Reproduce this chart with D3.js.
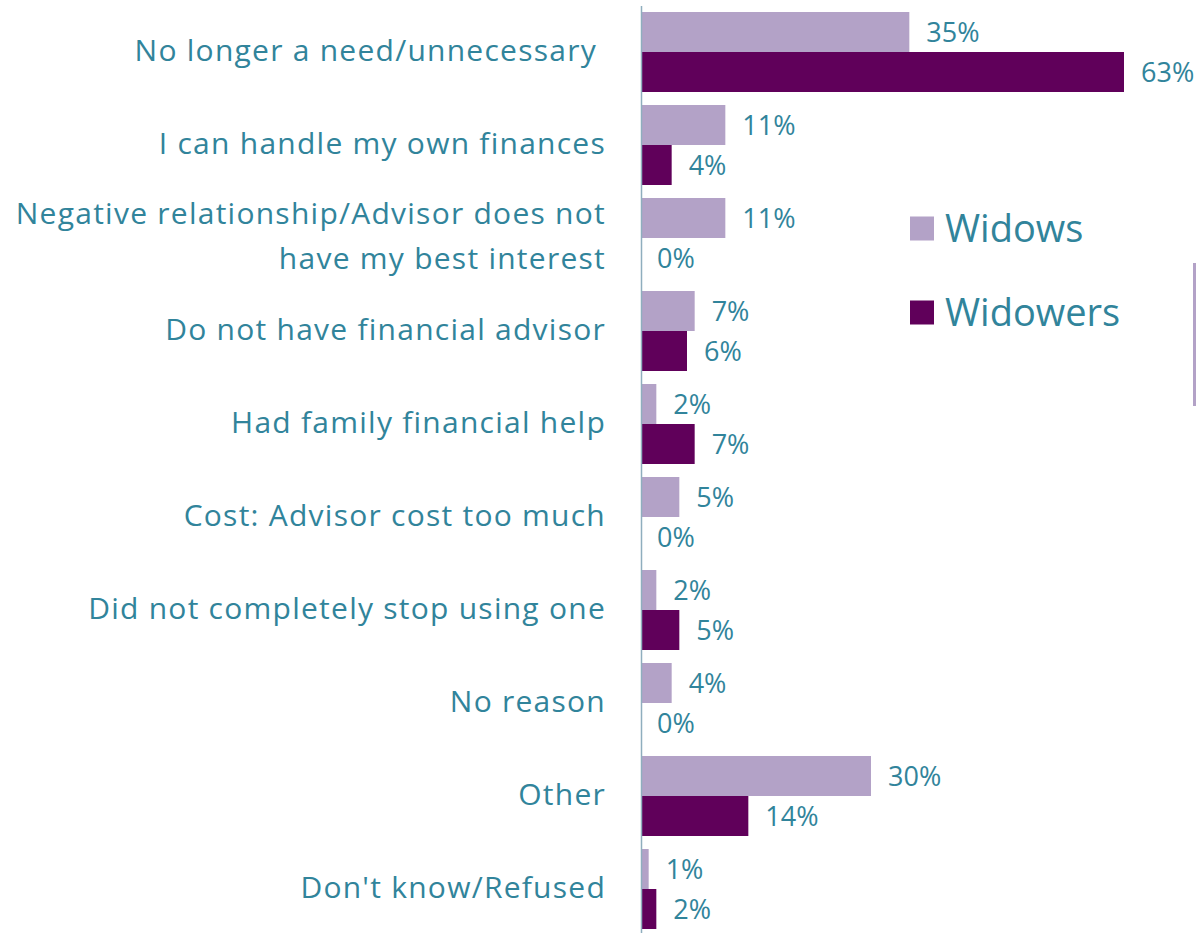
<!DOCTYPE html>
<html>
<head>
<meta charset="utf-8">
<script src="https://cdn.jsdelivr.net/npm/d3@7"></script>
<style>
  html, body { margin: 0; padding: 0; background: #fff; }
  svg { display: block; }
  text { font-family: "Open Sans", "Noto Sans", sans-serif; fill: #31849B; }
</style>
</head>
<body>
<svg id="chart" width="1197" height="933"></svg>
<script>
// Reasons for no longer using a financial advisor, by respondent group (%)
const categories = [
  ["No longer a need/unnecessary "],
  ["I can handle my own finances"],
  ["Negative relationship/Advisor does not", "have my best interest"],
  ["Do not have financial advisor"],
  ["Had family financial help"],
  ["Cost: Advisor cost too much"],
  ["Did not completely stop using one"],
  ["No reason"],
  ["Other"],
  ["Don't know/Refused"]
];
const seriesNames = ["Widows", "Widowers"];
const widows   = [35, 11, 11, 7, 2, 5, 2, 4, 30, 1];
const widowers = [63, 4, 0, 6, 7, 0, 5, 0, 14, 2];
const colors = ["#B3A2C7", "#60005A"];

const svg = d3.select("#chart");
const axisX = 641;

const y = d3.scaleBand()
  .domain(d3.range(categories.length))
  .range([5.5, 935.5])
  .paddingInner(13 / 93)
  .paddingOuter(6.5 / 93);

const ySub = d3.scaleBand()
  .domain(seriesNames)
  .range([0, y.bandwidth()]);

const x = d3.scaleLinear()
  .domain([0, 63])
  .range([axisX, 1124]);

const rows = categories.map((c, i) => ({
  i, label: c, values: [widows[i], widowers[i]]
}));

// Bars
const g = svg.append("g");
const row = g.selectAll("g.row").data(rows).join("g")
  .attr("class", "row")
  .attr("transform", d => `translate(0,${y(d.i)})`);

row.selectAll("rect").data(d => d.values.map((v, k) => ({ v, k })))
  .join("rect")
  .attr("x", x(0))
  .attr("y", d => ySub(seriesNames[d.k]))
  .attr("width", d => x(d.v) - x(0))
  .attr("height", ySub.bandwidth())
  .attr("fill", d => colors[d.k]);

row.selectAll("text.val").data(d => d.values.map((v, k) => ({ v, k })))
  .join("text")
  .attr("class", "val")
  .attr("x", d => x(d.v) + (d.v === 0 ? 16 : 17))
  .attr("y", d => ySub(seriesNames[d.k]) + ySub.bandwidth() / 2)
  .attr("dy", "0.36em")
  .attr("font-size", 27)
  .text(d => d.v + "%");

// Category axis
const axis = d3.axisLeft(y).tickSize(0).tickFormat("");
const axisG = svg.append("g")
  .attr("transform", `translate(${axisX},0)`)
  .call(axis);
axisG.select(".domain").attr("stroke", "#8FAEBE").attr("stroke-width", 1.5);

// Category labels (right aligned, multi-line where needed)
const labels = svg.append("g");
rows.forEach(d => {
  const cy = y(d.i) + y.bandwidth() / 2;
  const lineH = 45;
  const n = d.label.length;
  const t = labels.append("text")
    .attr("text-anchor", "end")
    .attr("font-size", 30)
    .attr("letter-spacing", 1.25)
    .style("white-space", "pre");
  d.label.forEach((line, j) => {
    t.append("tspan")
      .attr("x", 606)
      .attr("y", cy - 2 + (j - (n - 1) / 2) * lineH)
      .attr("dy", "0.36em")
      .text(line);
  });
});

// Legend
const legend = svg.append("g");
seriesNames.forEach((name, k) => {
  const ly = 228.5 + k * 84;
  legend.append("rect")
    .attr("x", 910).attr("y", ly - 12)
    .attr("width", 24).attr("height", 24)
    .attr("fill", colors[k]);
  legend.append("text")
    .attr("x", 945).attr("y", ly)
    .attr("dy", "0.36em")
    .attr("font-size", 38)
    .text(name);
});

// Thin accent rule at the right edge
svg.append("line")
  .attr("x1", 1194.5).attr("x2", 1194.5)
  .attr("y1", 263).attr("y2", 406)
  .attr("stroke", colors[0]).attr("stroke-width", 3);
</script>
</body>
</html>
